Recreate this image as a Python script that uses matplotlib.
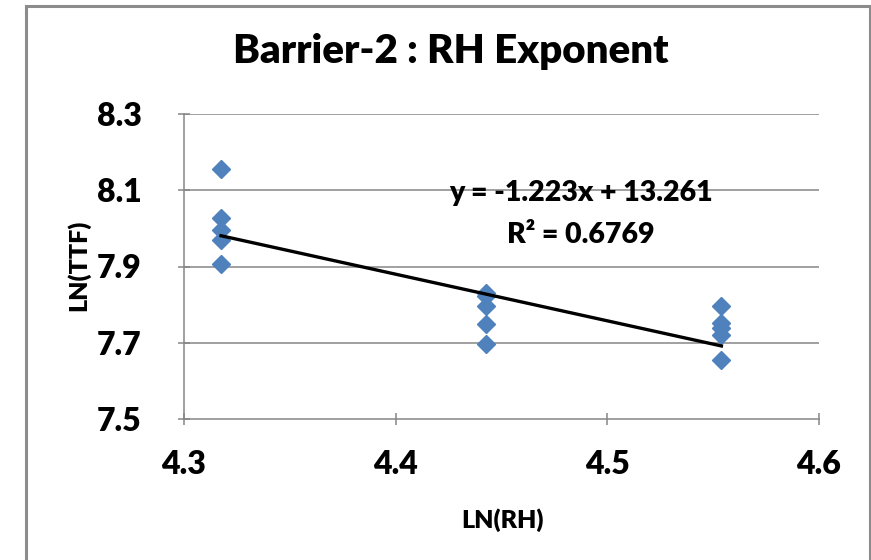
import numpy as np
import matplotlib
matplotlib.use("Agg")
from matplotlib import pyplot as plt
from matplotlib.patches import Rectangle

# data
ln_rh = [4.3175, 4.3175, 4.3175, 4.3175, 4.3175,
         4.4427, 4.4427, 4.4427, 4.4427, 4.4427,
         4.5539, 4.5539, 4.5539, 4.5539, 4.5539]
ln_ttf = [8.157, 8.026, 7.996, 7.970, 7.907,
          7.831, 7.822, 7.797, 7.748, 7.697,
          7.796, 7.753, 7.738, 7.720, 7.655]
slope = -1.223
intercept = 13.261
r_squared = 0.6769
x_ticks = [4.3, 4.4, 4.5, 4.6]
y_ticks = [7.5, 7.7, 7.9, 8.1, 8.3]

plt.rcParams["font.family"] = ["Lato", "DejaVu Sans"]
plt.rcParams["font.weight"] = "heavy"
W = "heavy"

fig = plt.figure(figsize=(8.71, 5.6), dpi=100)
# outer chart border
fig.patches.append(Rectangle((26 / 871, -0.01), 844 / 871, 1.0 - 5.5 / 560 + 0.01,
                             transform=fig.transFigure, fill=False,
                             edgecolor="#8c8c8c", linewidth=2.2))

ax = fig.add_axes([184 / 871, 141 / 560, 635 / 871, 305 / 560])
ax.set_xlim(4.3, 4.6)
ax.set_ylim(7.5, 8.3)

# gridlines
for yv in y_ticks[1:]:
    ax.axhline(yv, color="#868686", linewidth=1.1, zorder=1)

# scatter points
ax.plot(ln_rh, ln_ttf, linestyle="none", marker="D", markersize=9.5,
        color="#4f81bd", markeredgecolor="#4f81bd", zorder=3)

# linear trendline
xt = np.array([min(ln_rh), max(ln_rh)])
ax.plot(xt, slope * xt + intercept, color="black", linewidth=2.4, zorder=4)

ax.text(4.4875, 8.093, f"y = {slope:.3f}x + {intercept:.3f}", ha="center", va="center",
        fontsize=20.5, fontweight=W, zorder=5)
ax.text(4.4875, 7.983, f"R² = {r_squared:.4f}", ha="center", va="center",
        fontsize=20.5, fontweight=W, zorder=5)

for side in ["top", "right"]:
    ax.spines[side].set_visible(False)
for side in ["left", "bottom"]:
    ax.spines[side].set_color("#868686")
    ax.spines[side].set_linewidth(1.1)

ax.set_xticks(x_ticks)
ax.set_yticks(y_ticks)
ax.set_xticklabels([f"{v:.1f}" for v in x_ticks])
ax.set_yticklabels([f"{v:.1f}" for v in y_ticks])
ax.tick_params(axis="both", direction="inout", length=9, width=1.1, color="#868686",
               labelsize=23)
ax.tick_params(axis="x", pad=18)
ax.tick_params(axis="y", pad=26)
for lab in ax.get_xticklabels() + ax.get_yticklabels():
    lab.set_fontweight(W)

# axis titles and chart title placed on the figure
fig.text(502 / 871, 1 - 520 / 560, "LN(RH)", ha="center", va="center",
         fontsize=18, fontweight=W)
fig.text(78 / 871, 1 - 265 / 560, "LN(TTF)", ha="center", va="center",
         rotation=90, fontsize=18, fontweight=W)
fig.text(451 / 871, 1 - 52 / 560, "Barrier-2 : RH Exponent", ha="center", va="center",
         fontsize=29, fontweight=W)

fig.savefig("out.png", dpi=100)
plt.close(fig)
